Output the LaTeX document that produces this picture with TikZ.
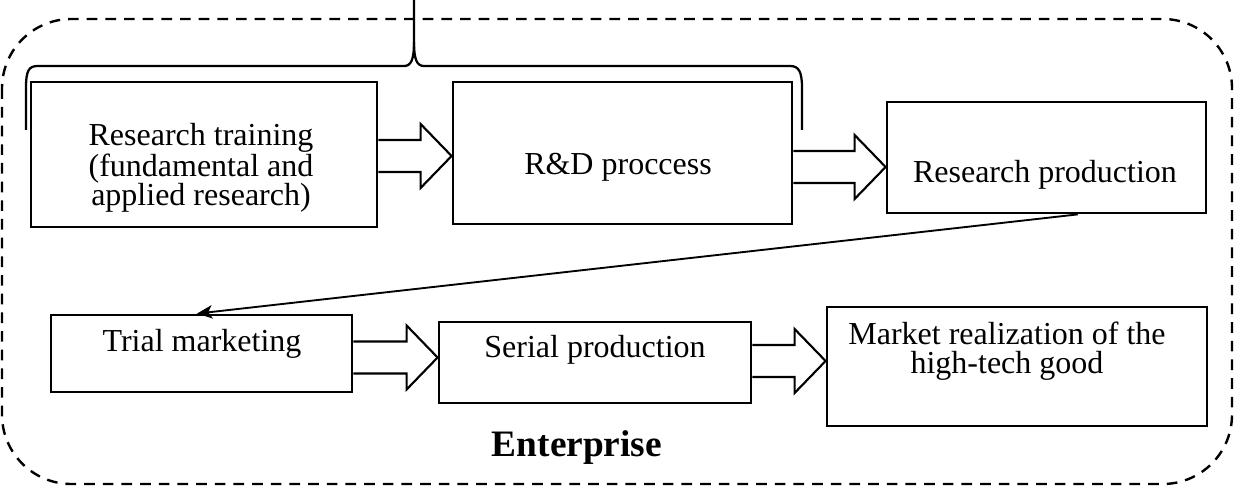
\documentclass[tikz,border=0pt]{standalone}
\usepackage{fontspec}
\setmainfont{Liberation Serif}
\usetikzlibrary{calc,arrows.meta}

% Block arrow between two boxes, centred on height #3
\newcommand\fatarrow[3]{%
  \draw[fatline] ($(#1.east |- 0,#3)+(0,-16)$) -- ($(#2.west |- 0,#3)+(-31,-16)$)
    -- ++(0,-16) -- (#2.west |- 0,#3) -- ++(-31,32) -- ++(0,-16)
    -- ($(#1.east |- 0,#3)+(0,16)$);}

\begin{document}
\begin{tikzpicture}[x=0.75pt,y=-0.75pt,
  box/.style={draw,line width=2.1pt,inner sep=0pt},
  lbl/.style={inner sep=0pt,align=center,font=\fontsize{24}{22}\selectfont},
  fatline/.style={line width=1.6pt,line join=miter},
  link/.style={line width=1.4pt,-{Stealth[length=11.5pt,width=10pt,inset=3pt]}},
  frame/.style={line width=1.8pt,dash pattern=on 8pt off 6pt,rounded corners=52pt},
  bracket/.style={line width=1.7pt}]
\useasboundingbox (0,0) rectangle (1234,488);

% enterprise frame
\draw[frame] (2,19) rectangle (1232,484);

% boxes
\node[box,minimum width=259.5pt,minimum height=108.75pt] (b1) at (204,154.5) {};
\node[box,minimum width=254.25pt,minimum height=106.5pt] (b2) at (622.5,153) {};
\node[box,minimum width=239.25pt,minimum height=83.25pt] (b3) at (1046.5,157.5) {};
\node[box,minimum width=225.75pt,minimum height=57.75pt] (b4) at (201.5,353.5) {};
\node[box,minimum width=234pt,minimum height=60.75pt] (b5) at (595,362.5) {};
\node[box,minimum width=285pt,minimum height=89.25pt] (b6) at (1017,366.5) {};

% box texts
\node[lbl] (t1) at (201,168) {Research training\\ (fundamental and\\ applied research)};
\node[lbl,anchor=base] (t2) at (618,175) {R\&D proccess};
\node[lbl,anchor=base] (t3) at (1045,183) {Research production};
\node[lbl,anchor=base] (t4) at (202,351) {Trial marketing};
\node[lbl,anchor=base] (t5) at (595,357) {Serial production};
\node[lbl] (t6) at (1007,351.5) {Market realization of the\\ high-tech good};
\node[inner sep=0pt,anchor=base,font=\fontsize{28}{30}\selectfont\bfseries] (ent) at (577,456) {Enterprise};

% block arrows
\fatarrow{b1}{b2}{156}
\fatarrow{b2}{b3}{167}
\fatarrow{b4}{b5}{357.5}
\fatarrow{b5}{b6}{361}

% link from the first row to the second
\draw[link] ($(b3.south west)!0.597!(b3.south east)$) -- ($(b4.north west)!0.485!(b4.north east)$);

% brace over the research stages
\draw[bracket] (26,130) -- (26,88) .. controls (26,70) and (29,66) .. (38,66)
  -- (404,66) .. controls (411,66) and (414,60) .. (414,42) -- (414,0);
\draw[bracket] (414,42) .. controls (414,60) and (417,66) .. (424,66)
  -- (790,66) .. controls (799,66) and (802,72) .. (802,88) -- (802,130);
\end{tikzpicture}
\end{document}
